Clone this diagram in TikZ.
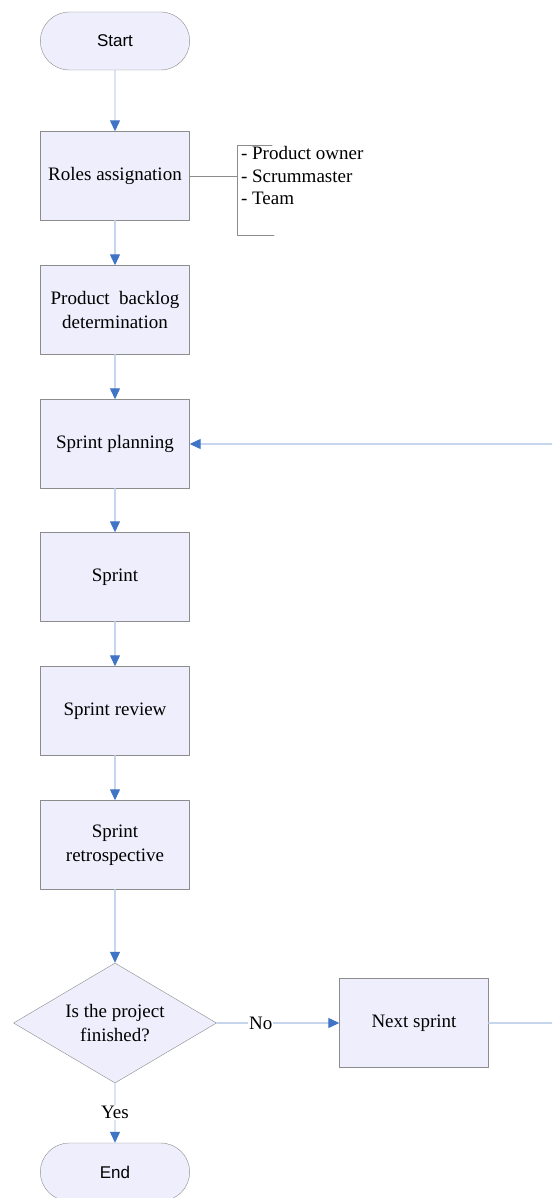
\documentclass[tikz,border=0pt]{standalone}
\usepackage{fontspec}
\setmainfont{Liberation Serif}
\setsansfont{Liberation Sans}
\usetikzlibrary{arrows.meta,shapes.geometric,shapes.misc}

\definecolor{boxfill}{HTML}{EEEEFC}
\definecolor{boxline}{HTML}{8C8C8C}
\definecolor{flowline}{HTML}{C6D6EF}
\definecolor{flowtip}{HTML}{3F74C6}

\begin{document}
\begin{tikzpicture}[
			x=1pt, y=-1pt,
			every node/.style={font=\fontsize{19}{23.5}\selectfont},
			line cap=round,
			line join=round,
			stepbox/.style={draw=boxline, fill=boxfill, rectangle, minimum width=149pt, minimum height=89pt, align=center},
			terminal/.style={draw=boxline, fill=boxfill, rounded rectangle, minimum width=156pt, minimum height=58pt, font=\sffamily\fontsize{17}{20}\selectfont},
			decision/.style={draw=boxline, fill=boxfill, diamond, aspect=1.7, minimum width=203pt, minimum height=120pt, align=center, inner sep=0pt},
			flow/.style={draw=flowline, line width=1.2pt, -{Triangle[length=11pt, width=10pt, color=flowtip]}}
			]
			\clip (0,0) rectangle (552,1198);
			\fill[white] (0,0) rectangle (552,1198);
			
			\node[terminal] (start) at (115,41) {Start};
			\node[stepbox] (roles) at (115,176) {Roles assignation};
			\node[stepbox] (backlog) at (115,310) {Product\ \ backlog\\determination};
			\node[stepbox] (planning) at (115,444) {Sprint planning};
			\node[stepbox] (sprint) at (115,577) {Sprint};
			\node[stepbox] (review) at (115,711) {Sprint review};
			\node[stepbox] (retro) at (115,845) {Sprint\\retrospective};
			\node[decision] (finished) at (115,1023) {Is the project\\finished?};
			\node[stepbox] (next) at (414,1023) {Next sprint};
			\node[terminal] (stop) at (115,1172) {End};
			
			% roles list with bracket
			\coordinate (brk) at (237,176);
			\draw[boxline, line width=0.8pt] (272,145) -- (237,145) -- (237,235) -- (274,235);
			\draw[boxline, line width=0.8pt] (roles.east) -- (brk);
			\node[anchor=west, align=left, font=\fontsize{19}{22.5}\selectfont] (rolelist) at (237.5,176) {- Product owner\\- Scrummaster\\- Team};
			
			\draw[flow] (start) -- (roles);
			\draw[flow] (roles) -- (backlog);
			\draw[flow] (backlog) -- (planning);
			\draw[flow] (planning) -- (sprint);
			\draw[flow] (sprint) -- (review);
			\draw[flow] (review) -- (retro);
			\draw[flow] (retro) -- (finished);
			\draw[flow] (finished) -- node[pos=0.36, fill=white, inner sep=1pt] {No} (next);
			\draw[flow] (finished) -- node[pos=0.49, fill=white, inner sep=1pt] {Yes} (stop);
			
			% loop back to sprint planning
			\coordinate (loopcorner) at (575,1023);
			\draw[flow] (next) -- (loopcorner) |- (planning);
		\end{tikzpicture}
\end{document}
